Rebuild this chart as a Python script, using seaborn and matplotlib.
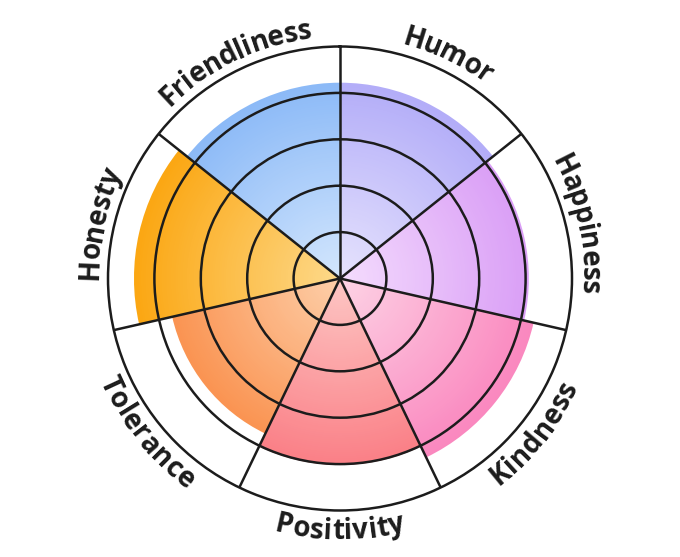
import matplotlib
matplotlib.use("Agg")
import matplotlib.pyplot as plt
import numpy as np
import seaborn as sns
from matplotlib.font_manager import FontProperties, findfont, get_font

sns.set_theme(style="white")
plt.rcParams["font.family"] = ["Open Sans", "DejaVu Sans"]

# sectors, clockwise from 12 o'clock
traits = ["Humor", "Happiness", "Kindness", "Positivity", "Tolerance", "Honesty", "Friendliness"]
scores = [4.22, 4.07, 4.28, 4.02, 3.71, 4.44, 4.22]
grid_levels = [1, 2, 3, 4]
max_score = 5

# saturated colour at the rim, pale colour at the centre
outer_colors = ["#b3adf8", "#da9ff6", "#fa88bf", "#fa8087", "#fa9452", "#fba713", "#8cbaf7"]
inner_colors = ["#e6e3fd", "#f4dcfd", "#fdd3e5", "#fdc6c4", "#fdcfaa", "#fdd98a", "#d3e6fd"]

DPI = 100
W, H = 680, 557
cx, cy, R = 340, 278.5, 232  # centre and outer radius in pixels (y from top)
ink = "#1c1c1c"

fig = plt.figure(figsize=(W / DPI, H / DPI), dpi=DPI)
ax = fig.add_axes([(cx - R) / W, (H - cy - R) / H, 2 * R / W, 2 * R / H], projection="polar")
ax.set_theta_zero_location("N")
ax.set_theta_direction(-1)

n = len(traits)
step = 2 * np.pi / n
theta = np.arange(n) * step + step / 2

# radial gradient: nested wedges from rim to centre
levels = 90
for i, (t, v) in enumerate(zip(theta, scores)):
    shades = sns.blend_palette([inner_colors[i], outer_colors[i]], levels)
    for k in range(levels, 0, -1):
        ax.bar(t, v * k / levels, width=step, color=shades[k - 1], linewidth=0, zorder=1)

ax.set_ylim(0, max_score)
ax.set_xticks(np.arange(n) * step)
ax.set_xticklabels([])
ax.set_yticks(grid_levels)
ax.set_yticklabels([])
ax.tick_params(length=0)
ax.grid(True, color=ink, linewidth=1.8)
ax.set_axisbelow(False)
ax.spines["polar"].set_color(ink)
ax.spines["polar"].set_linewidth(1.8)

# curved labels, one glyph at a time
fp = FontProperties(family="Open Sans", weight="bold", size=20)
font = get_font(findfont(fp))
font.set_size(20, DPI)
px = R / max_score
r_mid = 252

for t, name in zip(theta, traits):
    adv = [font.load_char(ord(c)).linearHoriAdvance / 65536 for c in name]
    span = sum(adv) / r_mid
    inward = np.cos(t) < 0  # lower half reads counter-clockwise
    x = 0
    for c, a in zip(name, adv):
        off = (x + a / 2) / r_mid
        x += a
        if inward:
            tc = t + span / 2 - off
            rot = 180 - np.degrees(tc)
            rb = 261
        else:
            tc = t - span / 2 + off
            rot = -np.degrees(tc)
            rb = 242
        ax.text(tc, rb / px, c, rotation=rot, rotation_mode="anchor",
                ha="center", va="baseline", fontproperties=fp, color=ink)

fig.savefig("out.png", dpi=DPI)
